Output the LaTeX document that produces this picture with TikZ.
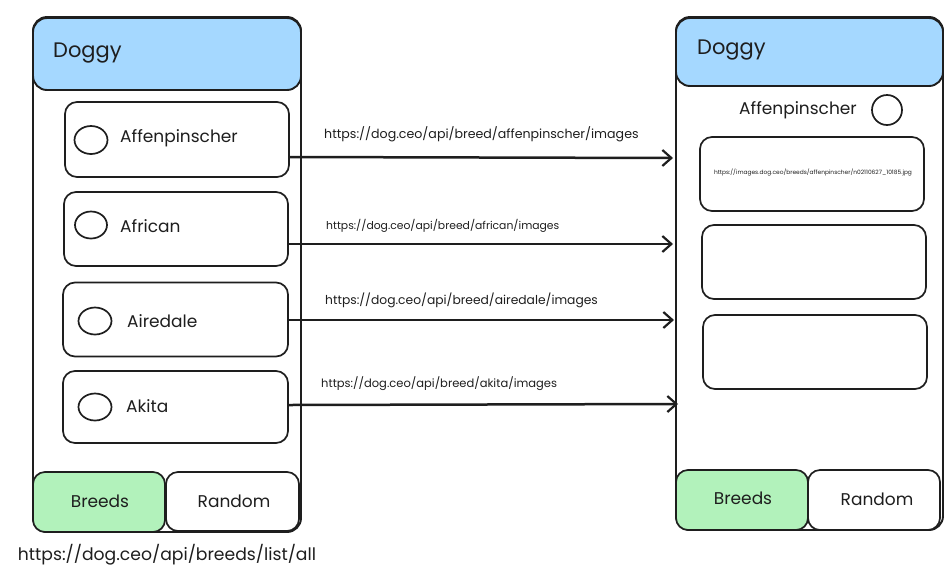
\documentclass[tikz,border=0pt]{standalone}
\usepackage{fontspec}
\setmainfont{Poppins}
\usetikzlibrary{arrows.meta,shapes.geometric,calc}
\definecolor{ink}{HTML}{1E1E1E}
\definecolor{hdrblue}{HTML}{A5D8FF}
\definecolor{btngreen}{HTML}{B2F2BB}
\tikzset{
  phone/.style={draw=ink, line width=1.9, rounded corners=14, fill=white, inner sep=0},
  header/.style={draw=ink, line width=1.9, fill=hdrblue, rounded corners=14, inner sep=0},
  itembox/.style={draw=ink, line width=1.7, rounded corners=12, fill=white, inner sep=0},
  radio/.style={draw=ink, line width=1.7, ellipse, inner sep=0},
  btnon/.style={draw=ink, line width=1.7, rounded corners=12, fill=btngreen, inner sep=0},
  btnoff/.style={draw=ink, line width=1.7, rounded corners=12, fill=white, inner sep=0},
  lbl/.style={inner sep=0, text=ink, font=\fontsize{17}{20}\selectfont},
  ttl/.style={inner sep=0, text=ink, font=\fontsize{21}{24}\selectfont},
  url/.style={inner sep=0, text=ink, anchor=west},
  conn/.style={draw=ink, line width=2.5, -{Straight Barb[length=9,width=16,line width=2.2]}},
}
\begin{document}
\begin{tikzpicture}[x=1pt,y=-1pt]
\useasboundingbox (0,0) rectangle (949,579);
% left phone
\node[phone, minimum width=268, minimum height=515] (lphone) at (167,274.5) {};
\node[header, minimum width=268, minimum height=72] (lhdr) at (167,54) {};
\node[ttl, anchor=west] (ltitle) at (53,53) {Doggy};
% items
\node[itembox, minimum width=224, minimum height=75] (it1) at (177,139.5) {};
\node[radio, minimum width=33, minimum height=28] (r1) at (91,140) {};
\node[lbl, anchor=west] (t1) at (120,138) {Affenpinscher};
\node[itembox, minimum width=224, minimum height=74] (it2) at (176,229) {};
\node[radio, minimum width=32, minimum height=27] (r2) at (91,225) {};
\node[lbl, anchor=west] (t2) at (120,226) {African};
\node[itembox, minimum width=225, minimum height=74] (it3) at (175.5,319.5) {};
\node[radio, minimum width=33, minimum height=27] (r3) at (95,321) {};
\node[lbl, anchor=west] (t3) at (127,321) {Airedale};
\node[itembox, minimum width=225, minimum height=72] (it4) at (175.5,407) {};
\node[radio, minimum width=33, minimum height=27] (r4) at (95,407) {};
\node[lbl, anchor=west] (t4) at (126,406) {Akita};
% buttons
\node[btnon, minimum width=132, minimum height=60] (lb1) at (99,502) {};
\node[lbl] (lb1t) at (100,501) {Breeds};
\node[btnoff, minimum width=133, minimum height=59] (lb2) at (232.5,501.5) {};
\node[lbl] (lb2t) at (234,501) {Random};
\node[lbl, font=\fontsize{17.2}{20}\selectfont] (listall) at (167,555) {https://dog.ceo/api/breeds/list/all};
% right phone
\node[phone, minimum width=267, minimum height=513] (rphone) at (809.5,273.5) {};
\node[header, minimum width=267, minimum height=68] (rhdr) at (809.5,52) {};
\node[ttl, anchor=west] (rtitle) at (697,50) {Doggy};
\node[lbl] (rbreed) at (798,110) {Affenpinscher};
\node[radio, minimum width=30, minimum height=30] (rr) at (887,110) {};
\node[itembox, minimum width=224, minimum height=74] (img1) at (812,174) {};
\node[inner sep=0, text=ink, font=\fontsize{5.9}{6.5}\selectfont] (img1t) at (813,173) {https://images.dog.ceo/breeds/affenpinscher/n02110627\_10185.jpg};
\node[itembox, minimum width=224, minimum height=74] (img2) at (814,262) {};
\node[itembox, minimum width=224, minimum height=74] (img3) at (815,352) {};
\node[btnon, minimum width=132, minimum height=60] (rb1) at (742,500) {};
\node[lbl] (rb1t) at (743,498) {Breeds};
\node[btnoff, minimum width=132, minimum height=60] (rb2) at (874,500) {};
\node[lbl] (rb2t) at (877,499) {Random};
% connectors
\coordinate (e1) at (673,158);
\coordinate (e2) at (673,244);
\coordinate (e3) at (674,320);
\coordinate (e4) at (678,404);
\draw[conn] ([yshift=-17.5]it1.east) -- (e1);
\draw[conn] ([yshift=-15]it2.east) -- (e2);
\draw[conn] ([yshift=-0.5]it3.east) -- (e3);
\draw[conn] ([yshift=2]it4.east) -- (e4);
\node[url, font=\fontsize{12.6}{14}\selectfont] (u1) at (324,134) {https://dog.ceo/api/breed/affenpinscher/images};
\node[url, font=\fontsize{10.8}{13}\selectfont] (u2) at (326,226) {https://dog.ceo/api/breed/african/images};
\node[url, font=\fontsize{12.3}{14}\selectfont] (u3) at (325,300) {https://dog.ceo/api/breed/airedale/images};
\node[url, font=\fontsize{11.5}{13}\selectfont] (u4) at (321,384) {https://dog.ceo/api/breed/akita/images};
\end{tikzpicture}
\end{document}
